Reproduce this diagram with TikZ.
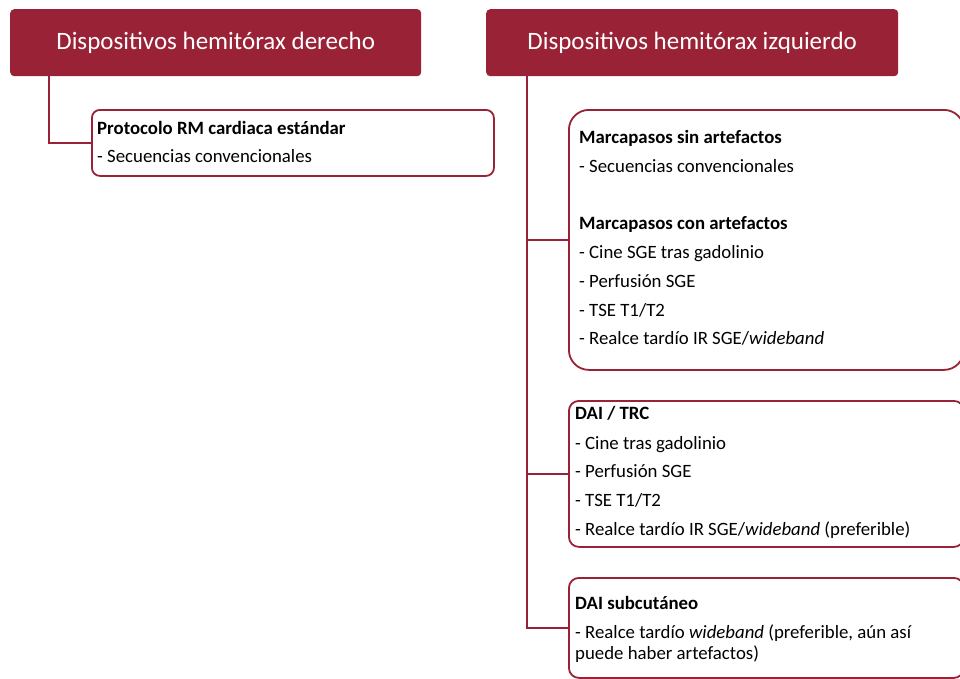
\documentclass[tikz,border=0pt]{standalone}
\usepackage{fontspec}
\setmainfont{Carlito}
\definecolor{wine}{HTML}{9A2236}
\begin{document}
\begin{tikzpicture}[x=1pt,y=-1pt,
  header/.style={fill=wine,rounded corners=4pt,inner sep=0pt,anchor=north west},
  htxt/.style={text=white,inner sep=0pt,font=\fontsize{25}{28}\selectfont},
  box/.style={draw=wine,line width=1.8pt,fill=white,inner sep=0pt,anchor=north west},
  conn/.style={draw=wine,line width=1.8pt},
  txt/.style={inner sep=0pt,anchor=base west,font=\fontsize{18.8}{22}\selectfont},
  btxt/.style={txt,font=\fontsize{18.8}{22}\selectfont\bfseries}]
\clip (0,0) rectangle (960,678);
\fill[white] (0,0) rectangle (960,678);
% headers
\node[header,minimum width=411pt,minimum height=67pt] (hl) at (10,9) {};
\node[htxt] (hlt) at (hl.center) {Dispositivos hemitórax derecho};
\node[header,minimum width=412pt,minimum height=67pt] (hr) at (486,9) {};
\node[htxt] (hrt) at (hr.center) {Dispositivos hemitórax izquierdo};
% boxes
\node[box,rounded corners=8pt,minimum width=402pt,minimum height=66pt] (b1) at (91,109) {};
\node[box,rounded corners=20pt,minimum width=395pt,minimum height=260pt] (b2) at (568,109) {};
\node[box,rounded corners=10pt,minimum width=395pt,minimum height=146pt] (b3) at (568,400) {};
\node[box,rounded corners=10pt,minimum width=395pt,minimum height=100pt] (b4) at (568,577) {};
% connectors
\coordinate (tl) at (49,76);
\coordinate (tr) at (527,76);
\draw[conn] (tl) |- (b1.west);
\draw[conn] (tr) |- (b4.west);
\draw[conn] (b2.west -| tr) -- (b2.west);
\draw[conn] (b3.west -| tr) -- (b3.west);
% texts box 1
\node[btxt] (t11) at (97,134) {Protocolo RM cardiaca estándar};
\node[txt] (t12) at (97,162) {- Secuencias convencionales};
% box 2
\node[btxt] (t21) at (579,143) {Marcapasos sin artefactos};
\node[txt] (t22) at (579,172) {- Secuencias convencionales};
\node[btxt] (t23) at (579,229) {Marcapasos con artefactos};
\node[txt] (t24) at (579,258) {- Cine SGE tras gadolinio};
\node[txt] (t25) at (579,287) {- Perfusión SGE};
\node[txt] (t26) at (579,316) {- TSE T1/T2};
\node[txt] (t27) at (579,344) {- Realce tardío IR SGE/\textit{wideband}};
% box 3
\node[btxt] (t31) at (575,419) {DAI / TRC};
\node[txt] (t32) at (575,449) {- Cine tras gadolinio};
\node[txt] (t33) at (575,477) {- Perfusión SGE};
\node[txt] (t34) at (575,506) {- TSE T1/T2};
\node[txt] (t35) at (575,535) {- Realce tardío IR SGE/\textit{wideband} (preferible)};
% box 4
\node[btxt] (t41) at (575,609) {DAI subcutáneo};
\node[txt] (t42) at (575,638) {- Realce tardío \textit{wideband} (preferible, aún así};
\node[txt] (t43) at (575,659) {puede haber artefactos)};
\end{tikzpicture}
\end{document}
